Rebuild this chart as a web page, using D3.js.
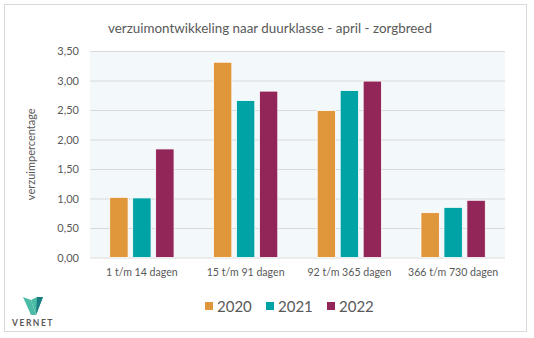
<!DOCTYPE html>
<html>
<head>
<meta charset="utf-8">
<script src="https://cdn.jsdelivr.net/npm/d3@7"></script>
<style>
  html, body { margin: 0; padding: 0; background: #fff; }
  svg { display: block; }
  text { font-family: Lato, "Open Sans", sans-serif; fill: #595959; }
</style>
</head>
<body>
<svg id="chart" width="534" height="338"></svg>
<script>
// Absenteeism by duration class, April, sector-wide
const categories = ["1 t/m 14 dagen", "15 t/m 91 dagen", "92 t/m 365 dagen", "366 t/m 730 dagen"];
const years = ["2020", "2021", "2022"];
const values2020 = [1.02, 3.31, 2.49, 0.76];
const values2021 = [1.01, 2.66, 2.83, 0.85];
const values2022 = [1.84, 2.82, 2.99, 0.97];
const yTicks = [0, 0.5, 1, 1.5, 2, 2.5, 3, 3.5];
const colors = ["#e0963a", "#00a3a5", "#932658"];

const series = [values2020, values2021, values2022];
const fmt = v => v.toFixed(2).replace(".", ",");

const svg = d3.select("#chart");

// outer frame
svg.append("rect")
  .attr("x", 4.5).attr("y", 4.5).attr("width", 522).attr("height", 327)
  .attr("fill", "#fff").attr("stroke", "#d9d9d9").attr("stroke-width", 1);

// title
svg.append("text")
  .attr("x", 270).attr("y", 33)
  .attr("text-anchor", "middle")
  .style("font-size", "13.4px")
  .text("verzuimontwikkeling naar duurklasse - april - zorgbreed");

const plot = { left: 90, right: 505, top: 51, bottom: 257.5 };

const x0 = d3.scaleBand().domain(categories).range([plot.left, plot.right]).paddingInner(0.38).paddingOuter(0.19);
const x1 = d3.scaleBand().domain(years).range([0, x0.bandwidth()]).paddingInner(0.2);
const y = d3.scaleLinear().domain([0, 3.5]).range([plot.bottom, plot.top]);

// plot area background
svg.append("rect")
  .attr("x", plot.left).attr("y", plot.top)
  .attr("width", plot.right - plot.left).attr("height", plot.bottom - plot.top)
  .attr("fill", "#f3f8fb");

// y axis with gridlines
const yAxis = svg.append("g")
  .attr("transform", `translate(${plot.left},0)`)
  .call(d3.axisLeft(y).tickValues(yTicks).tickFormat(fmt).tickSize(-(plot.right - plot.left)).tickPadding(11));
yAxis.select(".domain").remove();
yAxis.selectAll(".tick line").attr("stroke", "#d9d9d9").attr("stroke-width", 1.2);
yAxis.selectAll(".tick text").style("font-size", "11px").attr("fill", "#595959");

// y axis title
svg.append("text")
  .attr("transform", `translate(35,${(plot.top + plot.bottom) / 2}) rotate(-90)`)
  .attr("text-anchor", "middle")
  .style("font-size", "11px")
  .text("verzuimpercentage");

// x axis labels
const xAxis = svg.append("g")
  .attr("transform", `translate(0,${plot.bottom})`)
  .call(d3.axisBottom(x0).tickSize(0).tickPadding(11));
xAxis.select(".domain").remove();
xAxis.selectAll(".tick text").style("font-size", "10.6px").attr("fill", "#595959");

// bars
const groups = svg.append("g").selectAll("g")
  .data(categories)
  .join("g")
  .attr("transform", d => `translate(${x0(d)},0)`);

groups.selectAll("rect")
  .data((d, i) => years.map((yr, j) => ({ yr, j, v: series[j][i] })))
  .join("rect")
  .attr("x", d => x1(d.yr))
  .attr("y", d => y(d.v))
  .attr("width", x1.bandwidth())
  .attr("height", d => y(0) - y(d.v))
  .attr("fill", d => colors[d.j])
  .attr("stroke", "#ffffff")
  .attr("stroke-width", 0.8);

// legend
const legendX = [205, 266, 327];
const legend = svg.append("g").selectAll("g")
  .data(years)
  .join("g")
  .attr("transform", (d, i) => `translate(${legendX[i]},306)`);
legend.append("rect")
  .attr("x", 0).attr("y", -4).attr("width", 8).attr("height", 8)
  .attr("fill", (d, i) => colors[i]);
legend.append("text")
  .attr("x", 12).attr("y", 5.5)
  .style("font-size", "15px")
  .text(d => d);

// VERNET logo
const logo = svg.append("g").attr("transform", "translate(23,297)");
logo.append("path")
  .attr("d", "M0,0 L8,3 L13,18 L8,18 Z")
  .attr("fill", "#4bbba5");
logo.append("path")
  .attr("d", "M8,3 L13,18 L20,0 L14,0 Z")
  .attr("fill", "#4bbba5");
logo.append("path")
  .attr("d", "M13,18 L14,0 L20,0 Z")
  .attr("fill", "#1b7c84");
svg.append("text")
  .attr("x", 33).attr("y", 326)
  .attr("text-anchor", "middle")
  .style("font-size", "8.5px")
  .style("font-weight", "bold")
  .style("letter-spacing", "1.5px")
  .attr("fill", "#3a3a3a")
  .text("VERNET");
</script>
</body>
</html>
